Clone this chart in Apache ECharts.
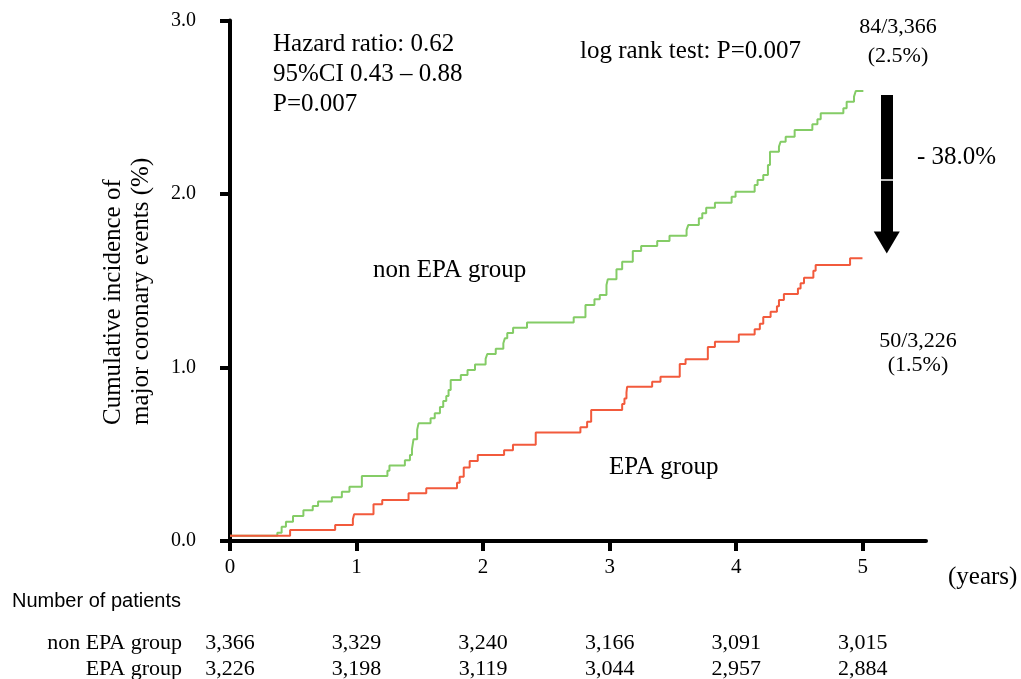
<!DOCTYPE html>
<html>
<head>
<meta charset="utf-8">
<script src="https://cdn.jsdelivr.net/npm/echarts@6/dist/echarts.min.js"></script>
<style>html,body{margin:0;padding:0;background:#fff;}#c{width:1021px;height:679px;}</style>
</head>
<body>
<div id="c"></div>
<script>
// Kaplan–Meier step points: [years, cumulative incidence %]
const nonEpaSteps = [
  [0,0.03],[0.374,0.048],[0.408,0.082],[0.442,0.111],[0.498,0.144],[0.580,0.177],[0.654,0.202],
  [0.696,0.227],[0.805,0.252],[0.884,0.284],[0.944,0.313],[1.042,0.375],[1.244,0.405],[1.260,0.435],
  [1.382,0.465],[1.422,0.496],[1.438,0.530],[1.450,0.586],[1.479,0.642],[1.490,0.678],[1.585,0.707],
  [1.618,0.736],[1.659,0.772],[1.685,0.807],[1.709,0.836],[1.727,0.870],[1.744,0.928],[1.824,0.957],
  [1.877,0.986],[1.936,1.017],[2.020,1.050],[2.033,1.078],[2.100,1.108],[2.160,1.140],[2.172,1.168],
  [2.191,1.199],[2.237,1.229],[2.347,1.259],[2.716,1.289],[2.809,1.360],[2.880,1.393],[2.922,1.418],
  [2.975,1.476],[2.985,1.508],[3.054,1.566],[3.099,1.610],[3.183,1.671],[3.249,1.700],[3.376,1.729],
  [3.473,1.760],[3.608,1.793],[3.621,1.821],[3.705,1.860],[3.732,1.889],[3.763,1.921],[3.832,1.950],
  [3.964,1.984],[3.995,2.013],[4.146,2.052],[4.169,2.081],[4.214,2.110],[4.251,2.167],[4.267,2.244],
  [4.338,2.273],[4.351,2.301],[4.391,2.330],[4.462,2.369],[4.602,2.402],[4.642,2.431],[4.668,2.465],
  [4.847,2.494],[4.873,2.532],[4.931,2.561],[4.945,2.594],[5.005,2.594]
];
const epaSteps = [
  [0,0.03],[0.475,0.063],[0.831,0.092],[0.971,0.125],[0.981,0.154],[1.134,0.212],[1.203,0.236],
  [1.411,0.275],[1.551,0.304],[1.794,0.336],[1.815,0.371],[1.847,0.424],[1.894,0.461],[1.958,0.496],
  [2.166,0.523],[2.236,0.555],[2.416,0.625],[2.769,0.655],[2.822,0.688],[2.854,0.755],[3.099,0.790],
  [3.117,0.822],[3.133,0.855],[3.138,0.889],[3.336,0.918],[3.402,0.947],[3.554,1.020],[3.600,1.047],
  [3.776,1.118],[3.832,1.149],[4.021,1.190],[4.146,1.220],[4.187,1.252],[4.214,1.291],[4.272,1.322],
  [4.322,1.353],[4.338,1.389],[4.377,1.424],[4.488,1.456],[4.509,1.485],[4.536,1.518],[4.610,1.558],
  [4.628,1.591],[4.900,1.629],[4.998,1.629]
];
const xTicks = [0,1,2,3,4,5];
const yTicks = [0,1,2,3];
const atRiskNonEpa = ['3,366','3,329','3,240','3,166','3,091','3,015'];
const atRiskEpa = ['3,226','3,198','3,119','3,044','2,957','2,884'];
const rowNames = ['non EPA group','EPA group'];
const arrowTopBottom = [2.57, 1.72];

const serif = '"Liberation Serif", "DejaVu Serif", serif';
const chart = echarts.init(document.getElementById('c'));
const axisLine = {show:true, lineStyle:{color:'#000', width:4}};
chart.setOption({
  animation:false,
  grid:{left:230, right:95, top:20.5, bottom:138},
  xAxis:{type:'value', min:0, max:5.5, interval:1,
    axisLine:axisLine, splitLine:{show:false},
    axisTick:{show:true, customValues:xTicks, length:10, lineStyle:{color:'#000', width:4}},
    axisLabel:{customValues:xTicks, color:'#000', fontFamily:serif, fontSize:21, margin:16,
      formatter:v=>String(v)}},
  yAxis:{type:'value', min:0, max:3, interval:1,
    axisLine:axisLine, splitLine:{show:false},
    axisTick:{show:true, customValues:yTicks, length:10, lineStyle:{color:'#000', width:4}},
    axisLabel:{customValues:yTicks, color:'#000', fontFamily:serif, fontSize:20, margin:34,
      formatter:v=>v.toFixed(1)}},
  series:[
    {type:'line', name:'non EPA group', step:'end', data:nonEpaSteps, symbol:'none',
      lineStyle:{color:'#84cc66', width:2}, z:3,
      markLine:{silent:true, animation:false, label:{show:false},
        data:[
          [{coord:[5.19, arrowTopBottom[0]], symbol:'none'},{coord:[5.19, arrowTopBottom[1]], symbol:'triangle', symbolSize:[26,22]}]
        ],
        lineStyle:{color:'#000', width:12, type:'solid'}}},
    {type:'line', name:'EPA group', step:'end', data:epaSteps, symbol:'none',
      lineStyle:{color:'#f25a3c', width:2}, z:3,
      markLine:{silent:true, animation:false, label:{show:false}, symbol:'none',
        data:[[{coord:[5.14, 2.08]},{coord:[5.24, 2.08]}]],
        lineStyle:{color:'#fff', width:1.5, type:'solid'}, z:10}}
  ]
});

const txt = (x,y,t,opt={}) => ({type:'text', x, y, silent:true,
  style:Object.assign({text:t, fill:'#000', font:'25px '+serif, textAlign:'left', textVerticalAlign:'middle'}, opt)});
const g = [];
g.push(txt(273,44,'Hazard ratio: 0.62'));
g.push(txt(273,74,'95%CI 0.43 \u2013 0.88'));
g.push(txt(273,104,'P=0.007'));
g.push(txt(580,51,'log rank test: P=0.007'));
g.push(txt(898,27,'84/3,366',{font:'22px '+serif, textAlign:'center'}));
g.push(txt(898,56,'(2.5%)',{font:'22px '+serif, textAlign:'center'}));
g.push(txt(917,157,'- 38.0%',{font:'25px '+serif}));
g.push(txt(918,341,'50/3,226',{font:'22px '+serif, textAlign:'center'}));
g.push(txt(918,365,'(1.5%)',{font:'22px '+serif, textAlign:'center'}));
g.push(txt(373,270,rowNames[0]));
g.push(txt(609,467,rowNames[1]));
g.push(txt(948,577,'(years)',{font:'25px '+serif}));
g.push({type:'text', x:127, y:425, rotation:Math.PI/2, silent:true,
  style:{text:'Cumulative incidence of\nmajor coronary events (%)', fill:'#000', font:'25px '+serif,
    textAlign:'left', textVerticalAlign:'middle', lineHeight:28}});
g.push(txt(12,601,'Number of patients',{font:'20px "Liberation Sans", Arial, sans-serif'}));
g.push(txt(182,643,rowNames[0],{font:'22px '+serif, textAlign:'right'}));
g.push(txt(182,669,rowNames[1],{font:'22px '+serif, textAlign:'right'}));
xTicks.forEach((t,i)=>{
  const px = chart.convertToPixel({xAxisIndex:0}, t);
  g.push(txt(px,643,atRiskNonEpa[i],{font:'22px '+serif, textAlign:'center'}));
  g.push(txt(px,669,atRiskEpa[i],{font:'22px '+serif, textAlign:'center'}));
});
chart.setOption({graphic:g});
</script>
</body>
</html>
